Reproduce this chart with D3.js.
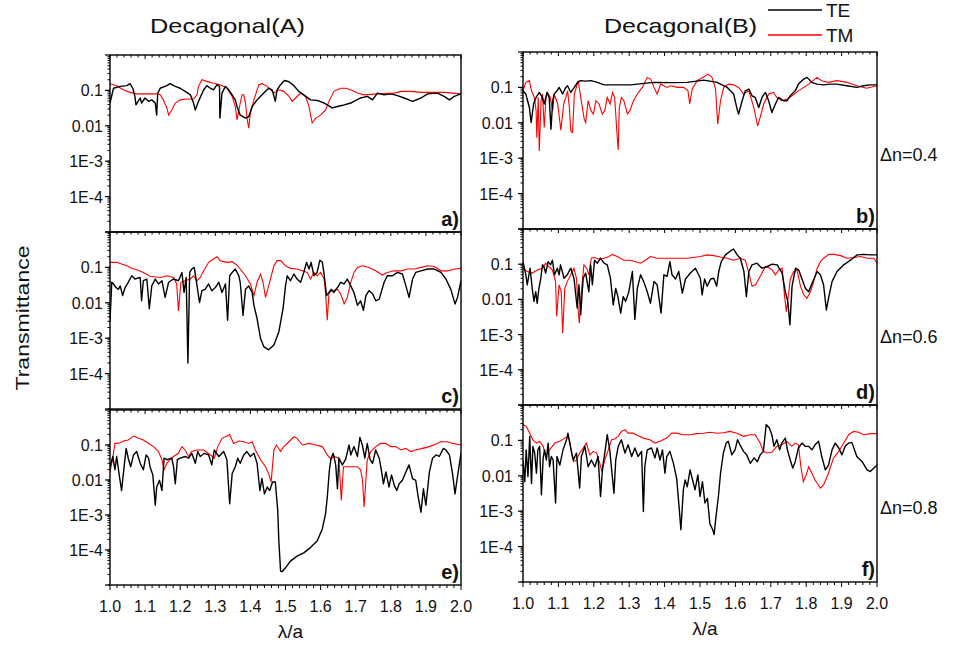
<!DOCTYPE html>
<html>
<head>
<meta charset="utf-8">
<script src="https://d3js.org/d3.v7.min.js"></script>
<style>
  body { margin: 0; background: #fff; }
  text { font-family: Arial, "Liberation Sans", sans-serif; fill: #111; }
</style>
</head>
<body>
<script>
// ---- data: [lambda/a, transmittance] ----
const teA = [[1.000,0.044],[1.010,0.115],[1.029,0.13],[1.048,0.136],[1.057,0.155],[1.065,0.115],[1.071,0.068],[1.074,0.039],[1.086,0.061],[1.090,0.044],[1.100,0.061],[1.110,0.049],[1.119,0.054],[1.129,0.044],[1.133,0.020],[1.136,0.084],[1.143,0.115],[1.162,0.136],[1.171,0.155],[1.186,0.13],[1.200,0.115],[1.214,0.094],[1.229,0.075],[1.238,0.044],[1.243,0.028],[1.252,0.049],[1.267,0.104],[1.276,0.136],[1.286,0.115],[1.295,0.104],[1.305,0.145],[1.312,0.13],[1.313,0.0165],[1.319,0.084],[1.329,0.13],[1.338,0.104],[1.348,0.075],[1.357,0.054],[1.362,0.035],[1.371,0.020],[1.386,0.0165],[1.395,0.018],[1.405,0.035],[1.419,0.054],[1.429,0.068],[1.443,0.094],[1.452,0.115],[1.462,0.104],[1.471,0.049],[1.476,0.104],[1.486,0.145],[1.497,0.19],[1.510,0.175],[1.524,0.136],[1.538,0.094],[1.552,0.075],[1.571,0.054],[1.590,0.052],[1.610,0.044],[1.619,0.039],[1.633,0.032],[1.648,0.035],[1.667,0.039],[1.686,0.044],[1.695,0.049],[1.714,0.061],[1.733,0.068],[1.748,0.054],[1.762,0.084],[1.781,0.075],[1.800,0.080],[1.819,0.071],[1.838,0.061],[1.862,0.049],[1.886,0.061],[1.905,0.080],[1.933,0.084],[1.952,0.068],[1.967,0.054],[1.981,0.068],[2.000,0.080]];
const tmA = [[1.000,0.155],[1.019,0.136],[1.038,0.104],[1.057,0.088],[1.076,0.080],[1.105,0.080],[1.133,0.080],[1.143,0.075],[1.152,0.054],[1.162,0.032],[1.167,0.020],[1.176,0.028],[1.186,0.044],[1.200,0.054],[1.219,0.057],[1.238,0.057],[1.248,0.075],[1.252,0.13],[1.262,0.2],[1.276,0.18],[1.295,0.16],[1.314,0.145],[1.333,0.115],[1.348,0.068],[1.357,0.035],[1.362,0.0147],[1.371,0.044],[1.376,0.075],[1.381,0.075],[1.386,0.044],[1.390,0.018],[1.395,0.0086],[1.400,0.023],[1.410,0.054],[1.424,0.145],[1.433,0.155],[1.448,0.13],[1.467,0.084],[1.481,0.104],[1.495,0.094],[1.510,0.068],[1.519,0.049],[1.529,0.061],[1.543,0.084],[1.557,0.068],[1.567,0.035],[1.576,0.012],[1.586,0.0165],[1.600,0.020],[1.614,0.028],[1.624,0.049],[1.638,0.094],[1.657,0.115],[1.671,0.115],[1.686,0.104],[1.705,0.084],[1.724,0.075],[1.762,0.080],[1.810,0.084],[1.829,0.094],[1.857,0.094],[1.886,0.088],[1.914,0.088],[1.952,0.088],[2.000,0.080]];

const teB = [[1.000,0.080],[1.008,0.065],[1.018,0.027],[1.023,0.0102],[1.030,0.034],[1.037,0.052],[1.046,0.072],[1.055,0.052],[1.060,0.034],[1.068,0.072],[1.074,0.052],[1.079,0.0066],[1.084,0.042],[1.088,0.065],[1.096,0.080],[1.102,0.1],[1.112,0.065],[1.121,0.1],[1.126,0.111],[1.135,0.072],[1.145,0.1],[1.154,0.139],[1.163,0.155],[1.177,0.15],[1.192,0.155],[1.210,0.139],[1.229,0.118],[1.248,0.118],[1.276,0.118],[1.304,0.118],[1.323,0.124],[1.342,0.13],[1.370,0.139],[1.417,0.136],[1.464,0.139],[1.511,0.16],[1.548,0.139],[1.577,0.1],[1.595,0.065],[1.605,0.024],[1.609,0.0176],[1.619,0.042],[1.628,0.080],[1.638,0.09],[1.647,0.058],[1.656,0.052],[1.666,0.027],[1.675,0.052],[1.685,0.072],[1.694,0.042],[1.703,0.0196],[1.713,0.034],[1.722,0.052],[1.736,0.042],[1.746,0.042],[1.755,0.058],[1.769,0.080],[1.778,0.124],[1.793,0.172],[1.802,0.192],[1.816,0.139],[1.830,0.124],[1.849,0.118],[1.868,0.124],[1.886,0.124],[1.915,0.111],[1.943,0.1],[1.962,0.111],[1.980,0.118],[2.000,0.118]];
const tmB = [[1.000,0.080],[1.008,0.139],[1.018,0.155],[1.024,0.080],[1.032,0.052],[1.037,0.022],[1.039,0.0038],[1.043,0.052],[1.046,0.0016],[1.051,0.042],[1.055,0.065],[1.060,0.0074],[1.065,0.052],[1.069,0.072],[1.077,0.052],[1.084,0.022],[1.088,0.065],[1.098,0.034],[1.107,0.0062],[1.115,0.034],[1.121,0.052],[1.126,0.080],[1.131,0.027],[1.135,0.0059],[1.140,0.0053],[1.145,0.065],[1.152,0.111],[1.156,0.155],[1.163,0.052],[1.173,0.0127],[1.177,0.0102],[1.184,0.042],[1.192,0.022],[1.199,0.0176],[1.206,0.042],[1.215,0.034],[1.224,0.0176],[1.231,0.022],[1.238,0.052],[1.246,0.034],[1.253,0.072],[1.259,0.052],[1.265,0.0059],[1.269,0.0017],[1.272,0.027],[1.278,0.052],[1.285,0.042],[1.295,0.0176],[1.302,0.022],[1.312,0.042],[1.323,0.065],[1.337,0.1],[1.351,0.192],[1.361,0.172],[1.370,0.1],[1.379,0.065],[1.389,0.124],[1.398,0.111],[1.408,0.1],[1.417,0.111],[1.436,0.1],[1.454,0.1],[1.466,0.080],[1.471,0.034],[1.478,0.09],[1.492,0.155],[1.511,0.2],[1.522,0.238],[1.534,0.192],[1.544,0.09],[1.550,0.0092],[1.558,0.042],[1.567,0.1],[1.581,0.124],[1.595,0.118],[1.609,0.1],[1.623,0.065],[1.638,0.080],[1.652,0.027],[1.663,0.0082],[1.670,0.0142],[1.680,0.034],[1.694,0.065],[1.708,0.072],[1.717,0.052],[1.731,0.042],[1.746,0.047],[1.760,0.058],[1.778,0.080],[1.793,0.1],[1.807,0.124],[1.821,0.16],[1.830,0.192],[1.844,0.155],[1.863,0.139],[1.886,0.155],[1.915,0.139],[1.943,0.111],[1.971,0.095],[2.000,0.111]];

const teC = [[1.000,0.0029],[1.005,0.038],[1.010,0.034],[1.017,0.027],[1.024,0.024],[1.029,0.030],[1.036,0.016],[1.043,0.027],[1.052,0.038],[1.062,0.058],[1.071,0.047],[1.086,0.052],[1.090,0.0114],[1.095,0.042],[1.105,0.047],[1.112,0.0068],[1.119,0.030],[1.129,0.047],[1.138,0.034],[1.148,0.042],[1.157,0.0142],[1.167,0.038],[1.181,0.047],[1.195,0.042],[1.205,0.072],[1.211,0.0196],[1.217,0.052],[1.222,0.0002],[1.227,0.072],[1.233,0.09],[1.240,0.1],[1.248,0.030],[1.255,0.0102],[1.262,0.022],[1.271,0.024],[1.281,0.034],[1.290,0.022],[1.300,0.027],[1.310,0.038],[1.319,0.0196],[1.329,0.034],[1.335,0.0032],[1.341,0.058],[1.348,0.072],[1.357,0.09],[1.367,0.058],[1.371,0.038],[1.379,0.0044],[1.386,0.024],[1.395,0.030],[1.405,0.0196],[1.410,0.0085],[1.419,0.0036],[1.429,0.00098],[1.438,0.00058],[1.452,0.00047],[1.467,0.00064],[1.481,0.0015],[1.493,0.0068],[1.500,0.030],[1.505,0.058],[1.514,0.042],[1.524,0.065],[1.533,0.047],[1.543,0.038],[1.552,0.072],[1.560,0.139],[1.567,0.09],[1.573,0.139],[1.581,0.058],[1.590,0.072],[1.598,0.16],[1.605,0.139],[1.610,0.065],[1.617,0.016],[1.624,0.0196],[1.630,0.024],[1.638,0.0196],[1.648,0.027],[1.657,0.038],[1.667,0.034],[1.676,0.047],[1.686,0.030],[1.695,0.0196],[1.705,0.0085],[1.714,0.0114],[1.722,0.0061],[1.729,0.016],[1.738,0.022],[1.748,0.018],[1.757,0.0114],[1.767,0.0127],[1.781,0.038],[1.790,0.058],[1.805,0.058],[1.819,0.072],[1.833,0.065],[1.843,0.030],[1.852,0.0142],[1.862,0.047],[1.871,0.072],[1.886,0.080],[1.905,0.09],[1.924,0.09],[1.943,0.072],[1.957,0.047],[1.971,0.024],[1.983,0.0093],[1.990,0.0142],[2.000,0.042]];
const tmC = [[1.000,0.139],[1.019,0.139],[1.033,0.124],[1.048,0.111],[1.062,0.094],[1.076,0.086],[1.095,0.072],[1.114,0.056],[1.143,0.052],[1.162,0.058],[1.181,0.052],[1.190,0.034],[1.195,0.0059],[1.202,0.038],[1.214,0.042],[1.229,0.047],[1.238,0.058],[1.248,0.042],[1.257,0.052],[1.267,0.080],[1.281,0.139],[1.295,0.172],[1.305,0.2],[1.314,0.155],[1.333,0.139],[1.348,0.145],[1.362,0.116],[1.371,0.09],[1.386,0.058],[1.400,0.034],[1.410,0.016],[1.419,0.038],[1.429,0.065],[1.436,0.038],[1.443,0.0142],[1.452,0.030],[1.467,0.111],[1.476,0.155],[1.486,0.155],[1.500,0.111],[1.514,0.094],[1.533,0.09],[1.548,0.080],[1.562,0.072],[1.571,0.047],[1.581,0.072],[1.590,0.058],[1.600,0.072],[1.610,0.047],[1.614,0.0196],[1.619,0.0032],[1.624,0.0196],[1.633,0.022],[1.648,0.024],[1.657,0.018],[1.667,0.0093],[1.676,0.0142],[1.686,0.038],[1.695,0.072],[1.705,0.1],[1.719,0.111],[1.738,0.1],[1.757,0.080],[1.776,0.061],[1.790,0.072],[1.810,0.080],[1.829,0.080],[1.848,0.09],[1.867,0.09],[1.886,0.1],[1.905,0.111],[1.924,0.106],[1.943,0.080],[1.962,0.080],[1.981,0.09],[2.000,0.094]];

const teD = [[1.000,0.118],[1.008,0.05],[1.012,0.026],[1.020,0.077],[1.026,0.0205],[1.031,0.0088],[1.036,0.0165],[1.040,0.0078],[1.045,0.0205],[1.050,0.038],[1.055,0.096],[1.059,0.086],[1.064,0.056],[1.071,0.118],[1.078,0.096],[1.083,0.13],[1.089,0.05],[1.097,0.077],[1.102,0.05],[1.106,0.096],[1.116,0.04],[1.125,0.05],[1.135,0.077],[1.144,0.04],[1.153,0.0057],[1.158,0.026],[1.163,0.0037],[1.170,0.04],[1.177,0.056],[1.186,0.0165],[1.191,0.096],[1.196,0.026],[1.202,0.13],[1.210,0.107],[1.219,0.148],[1.229,0.107],[1.238,0.096],[1.247,0.04],[1.255,0.007],[1.262,0.0205],[1.268,0.012],[1.276,0.0041],[1.283,0.012],[1.290,0.0088],[1.299,0.0165],[1.309,0.062],[1.316,0.0027],[1.323,0.0205],[1.332,0.05],[1.341,0.032],[1.351,0.0165],[1.360,0.0078],[1.370,0.032],[1.379,0.026],[1.390,0.0041],[1.398,0.05],[1.407,0.045],[1.415,0.118],[1.421,0.05],[1.431,0.038],[1.440,0.062],[1.450,0.015],[1.459,0.038],[1.473,0.056],[1.487,0.077],[1.501,0.04],[1.506,0.0135],[1.513,0.038],[1.520,0.0235],[1.530,0.038],[1.539,0.04],[1.547,0.0235],[1.553,0.062],[1.560,0.118],[1.572,0.184],[1.586,0.238],[1.595,0.27],[1.605,0.184],[1.614,0.148],[1.624,0.062],[1.631,0.012],[1.638,0.062],[1.647,0.096],[1.661,0.107],[1.675,0.077],[1.690,0.086],[1.704,0.1],[1.718,0.096],[1.732,0.056],[1.741,0.0165],[1.748,0.0088],[1.754,0.0019],[1.760,0.0235],[1.770,0.077],[1.779,0.068],[1.788,0.038],[1.798,0.0205],[1.807,0.0165],[1.817,0.029],[1.831,0.062],[1.840,0.05],[1.849,0.026],[1.857,0.005],[1.864,0.012],[1.873,0.032],[1.887,0.062],[1.906,0.096],[1.925,0.13],[1.944,0.184],[1.962,0.19],[1.981,0.184],[2.000,0.184]];
const tmD = [[1.000,0.077],[1.012,0.062],[1.026,0.056],[1.040,0.068],[1.055,0.077],[1.064,0.107],[1.073,0.086],[1.083,0.068],[1.092,0.032],[1.095,0.0033],[1.102,0.026],[1.108,0.0165],[1.112,0.0011],[1.118,0.0205],[1.125,0.032],[1.135,0.05],[1.144,0.077],[1.151,0.04],[1.155,0.007],[1.159,0.0021],[1.165,0.0165],[1.172,0.096],[1.180,0.077],[1.186,0.05],[1.193,0.148],[1.200,0.155],[1.214,0.14],[1.229,0.148],[1.243,0.165],[1.252,0.19],[1.266,0.165],[1.285,0.13],[1.304,0.13],[1.318,0.118],[1.332,0.107],[1.346,0.13],[1.360,0.165],[1.379,0.148],[1.417,0.148],[1.464,0.148],[1.501,0.165],[1.520,0.184],[1.539,0.175],[1.558,0.16],[1.577,0.148],[1.595,0.13],[1.614,0.148],[1.628,0.13],[1.638,0.056],[1.647,0.0235],[1.657,0.026],[1.666,0.038],[1.675,0.056],[1.685,0.086],[1.694,0.08],[1.704,0.068],[1.713,0.05],[1.722,0.068],[1.732,0.077],[1.739,0.012],[1.744,0.0045],[1.751,0.0165],[1.755,0.038],[1.765,0.062],[1.774,0.068],[1.784,0.0235],[1.793,0.0135],[1.802,0.0108],[1.812,0.0165],[1.821,0.032],[1.831,0.077],[1.840,0.118],[1.849,0.148],[1.864,0.19],[1.878,0.19],[1.897,0.175],[1.915,0.148],[1.934,0.155],[1.953,0.165],[1.972,0.148],[1.991,0.148],[2.000,0.107]];

const teE = [[1.000,0.024],[1.008,0.047],[1.014,0.0196],[1.019,0.047],[1.027,0.0125],[1.033,0.005],[1.038,0.015],[1.046,0.08],[1.052,0.042],[1.059,0.024],[1.067,0.052],[1.076,0.065],[1.086,0.03],[1.095,0.0196],[1.103,0.052],[1.110,0.042],[1.114,0.024],[1.122,0.014],[1.129,0.0019],[1.133,0.0063],[1.141,0.0098],[1.148,0.005],[1.154,0.042],[1.162,0.038],[1.176,0.042],[1.181,0.024],[1.186,0.0078],[1.192,0.038],[1.200,0.042],[1.214,0.047],[1.224,0.042],[1.233,0.058],[1.243,0.03],[1.250,0.065],[1.257,0.047],[1.269,0.058],[1.281,0.052],[1.290,0.027],[1.297,0.072],[1.310,0.047],[1.324,0.065],[1.333,0.038],[1.341,0.0021],[1.348,0.015],[1.357,0.024],[1.364,0.042],[1.371,0.03],[1.381,0.052],[1.390,0.065],[1.400,0.047],[1.410,0.058],[1.419,0.03],[1.427,0.005],[1.433,0.011],[1.440,0.004],[1.448,0.0063],[1.455,0.005],[1.463,0.0088],[1.471,0.0088],[1.478,0.0013],[1.481,0.00018],[1.486,0.000025],[1.490,0.000024],[1.500,0.000031],[1.514,0.000048],[1.533,0.000067],[1.552,0.000083],[1.571,0.000117],[1.590,0.00018],[1.605,0.0004],[1.614,0.00107],[1.619,0.0032],[1.625,0.019],[1.630,0.042],[1.636,0.058],[1.643,0.027],[1.648,0.0056],[1.652,0.042],[1.662,0.027],[1.671,0.038],[1.681,0.1],[1.686,0.052],[1.695,0.09],[1.705,0.047],[1.712,0.165],[1.719,0.1],[1.726,0.042],[1.733,0.111],[1.741,0.038],[1.748,0.03],[1.757,0.072],[1.767,0.042],[1.773,0.0196],[1.779,0.0078],[1.786,0.017],[1.795,0.0063],[1.802,0.014],[1.810,0.007],[1.817,0.005],[1.824,0.0078],[1.833,0.0098],[1.843,0.017],[1.852,0.027],[1.862,0.011],[1.871,0.0098],[1.878,0.0033],[1.886,0.0012],[1.893,0.0056],[1.900,0.0019],[1.910,0.017],[1.919,0.042],[1.929,0.052],[1.938,0.047],[1.950,0.08],[1.957,0.072],[1.967,0.052],[1.976,0.015],[1.983,0.004],[1.990,0.0125],[2.000,0.058]];
const tmE = [[1.000,0.017],[1.008,0.042],[1.014,0.111],[1.024,0.111],[1.038,0.13],[1.052,0.139],[1.062,0.165],[1.069,0.18],[1.081,0.155],[1.095,0.139],[1.110,0.111],[1.124,0.09],[1.138,0.065],[1.148,0.038],[1.154,0.0196],[1.162,0.03],[1.171,0.038],[1.181,0.047],[1.195,0.058],[1.205,0.09],[1.214,0.072],[1.224,0.047],[1.233,0.065],[1.248,0.072],[1.267,0.072],[1.286,0.052],[1.297,0.042],[1.307,0.09],[1.319,0.155],[1.333,0.18],[1.341,0.2],[1.352,0.111],[1.367,0.13],[1.381,0.124],[1.395,0.111],[1.405,0.124],[1.414,0.072],[1.429,0.038],[1.443,0.024],[1.452,0.015],[1.459,0.0088],[1.467,0.072],[1.474,0.1],[1.486,0.065],[1.495,0.09],[1.510,0.124],[1.524,0.172],[1.533,0.155],[1.548,0.1],[1.567,0.111],[1.586,0.1],[1.605,0.09],[1.619,0.052],[1.629,0.04],[1.638,0.047],[1.652,0.042],[1.659,0.0026],[1.665,0.024],[1.676,0.024],[1.690,0.024],[1.705,0.024],[1.714,0.0196],[1.719,0.011],[1.724,0.0017],[1.729,0.0098],[1.733,0.038],[1.743,0.065],[1.757,0.09],[1.771,0.111],[1.786,0.111],[1.800,0.09],[1.814,0.09],[1.829,0.072],[1.843,0.08],[1.857,0.065],[1.871,0.072],[1.890,0.08],[1.910,0.09],[1.929,0.106],[1.943,0.124],[1.962,0.124],[1.976,0.111],[2.000,0.1]];

const teF = [[1.000,0.028],[1.005,0.0068],[1.009,0.054],[1.014,0.0095],[1.019,0.13],[1.024,0.006],[1.028,0.068],[1.033,0.044],[1.038,0.0118],[1.042,0.054],[1.047,0.068],[1.052,0.0029],[1.057,0.032],[1.061,0.054],[1.066,0.028],[1.071,0.084],[1.075,0.018],[1.080,0.035],[1.085,0.028],[1.092,0.0017],[1.096,0.035],[1.104,0.02],[1.113,0.054],[1.123,0.104],[1.127,0.16],[1.132,0.084],[1.142,0.028],[1.151,0.044],[1.160,0.0045],[1.165,0.035],[1.175,0.068],[1.184,0.018],[1.193,0.028],[1.203,0.018],[1.212,0.035],[1.219,0.0026],[1.225,0.018],[1.231,0.044],[1.238,0.145],[1.245,0.054],[1.257,0.0032],[1.262,0.028],[1.269,0.068],[1.278,0.104],[1.288,0.044],[1.297,0.075],[1.307,0.035],[1.316,0.061],[1.325,0.035],[1.335,0.049],[1.340,0.00098],[1.344,0.018],[1.351,0.054],[1.363,0.061],[1.373,0.032],[1.379,0.061],[1.387,0.028],[1.394,0.054],[1.401,0.0118],[1.406,0.035],[1.415,0.049],[1.425,0.0225],[1.434,0.0085],[1.441,0.0013],[1.446,0.0003],[1.453,0.004],[1.458,0.0076],[1.464,0.0049],[1.472,0.0147],[1.479,0.0076],[1.486,0.004],[1.494,0.0106],[1.500,0.0026],[1.507,0.0068],[1.514,0.0017],[1.521,0.0023],[1.528,0.00044],[1.536,0.0003],[1.540,0.00022],[1.545,0.00068],[1.552,0.0026],[1.558,0.0118],[1.566,0.044],[1.574,0.084],[1.580,0.094],[1.590,0.039],[1.599,0.054],[1.606,0.104],[1.613,0.075],[1.623,0.049],[1.632,0.039],[1.642,0.0225],[1.653,0.032],[1.662,0.025],[1.670,0.039],[1.679,0.049],[1.687,0.28],[1.696,0.225],[1.703,0.145],[1.709,0.068],[1.717,0.104],[1.725,0.054],[1.731,0.084],[1.741,0.116],[1.747,0.054],[1.755,0.028],[1.762,0.0165],[1.769,0.025],[1.778,0.061],[1.788,0.084],[1.797,0.068],[1.807,0.068],[1.816,0.054],[1.825,0.075],[1.835,0.094],[1.844,0.035],[1.854,0.0147],[1.863,0.02],[1.873,0.054],[1.882,0.084],[1.892,0.061],[1.901,0.039],[1.910,0.068],[1.920,0.084],[1.929,0.088],[1.943,0.035],[1.958,0.025],[1.972,0.0147],[1.981,0.0132],[1.995,0.018],[2.000,0.02]];
const tmF = [[1.000,0.28],[1.009,0.25],[1.019,0.16],[1.028,0.104],[1.038,0.084],[1.047,0.094],[1.057,0.068],[1.064,0.035],[1.075,0.054],[1.090,0.084],[1.104,0.094],[1.118,0.116],[1.127,0.13],[1.132,0.094],[1.137,0.044],[1.143,0.025],[1.151,0.028],[1.160,0.044],[1.170,0.061],[1.179,0.084],[1.189,0.039],[1.198,0.049],[1.208,0.044],[1.217,0.0225],[1.223,0.013],[1.231,0.028],[1.241,0.054],[1.250,0.104],[1.259,0.11],[1.269,0.13],[1.278,0.18],[1.288,0.2],[1.297,0.16],[1.311,0.16],[1.325,0.135],[1.340,0.116],[1.358,0.104],[1.373,0.084],[1.387,0.094],[1.406,0.116],[1.420,0.16],[1.434,0.16],[1.453,0.145],[1.472,0.145],[1.491,0.155],[1.509,0.16],[1.528,0.17],[1.547,0.16],[1.566,0.165],[1.585,0.18],[1.604,0.16],[1.623,0.13],[1.642,0.145],[1.656,0.145],[1.670,0.084],[1.679,0.049],[1.689,0.044],[1.703,0.046],[1.717,0.068],[1.731,0.075],[1.745,0.094],[1.759,0.068],[1.769,0.084],[1.778,0.075],[1.785,0.018],[1.792,0.0068],[1.800,0.0106],[1.807,0.018],[1.816,0.0118],[1.825,0.0076],[1.840,0.0045],[1.849,0.0055],[1.863,0.0118],[1.877,0.032],[1.892,0.049],[1.906,0.084],[1.920,0.145],[1.934,0.18],[1.948,0.17],[1.962,0.145],[1.981,0.155],[2.000,0.155]];

const xTicks = [1.0, 1.1, 1.2, 1.3, 1.4, 1.5, 1.6, 1.7, 1.8, 1.9, 2.0];
const yTicks = [0.1, 0.01, 1e-3, 1e-4];
const yTickLabels = ["0.1", "0.01", "1E-3", "1E-4"];
const columnTitles = ["Decagonal(A)", "Decagonal(B)"];
const rowLabels = ["\u0394n=0.4", "\u0394n=0.6", "\u0394n=0.8"];
const seriesNames = ["TE", "TM"];
const seriesColors = ["#000000", "#ff0000"];

// ---- layout ----
const W = 963, H = 646;
const svg = d3.select("body").append("svg").attr("width", W).attr("height", H);

const panels = [
  { tag: "a)", te: teA, tm: tmA, x0: 110, x1: 461, y0: 55,  y1: 232, bottom: false },
  { tag: "c)", te: teC, tm: tmC, x0: 110, x1: 461, y0: 232, y1: 409, bottom: false },
  { tag: "e)", te: teE, tm: tmE, x0: 110, x1: 461, y0: 410, y1: 585, bottom: true },
  { tag: "b)", te: teB, tm: tmB, x0: 523, x1: 877, y0: 52,  y1: 229, bottom: false },
  { tag: "d)", te: teD, tm: tmD, x0: 523, x1: 877, y0: 229, y1: 405, bottom: false },
  { tag: "f)", te: teF, tm: tmF, x0: 523, x1: 877, y0: 405, y1: 582, bottom: true }
];

const minorY = [];
for (let e = -5; e < 0; e++) for (let m = 1; m < 10; m++) minorY.push(m * Math.pow(10, e));
const minorX = d3.range(0, 51).map(i => 1 + i * 0.02);

panels.forEach((p, pi) => {
  const x = d3.scaleLinear().domain([1, 2]).range([p.x0, p.x1]);
  const y = d3.scaleLog().domain([1e-5, 1]).range([p.y1, p.y0]);
  const g = svg.append("g");

  const clipId = "clip" + pi;
  svg.append("clipPath").attr("id", clipId).append("rect")
    .attr("x", p.x0).attr("y", p.y0).attr("width", p.x1 - p.x0).attr("height", p.y1 - p.y0);

  const line = d3.line().x(d => x(d[0])).y(d => y(d[1]));
  const plot = g.append("g").attr("clip-path", `url(#${clipId})`);
  plot.append("path").datum(p.tm).attr("d", line)
    .attr("fill", "none").attr("stroke", seriesColors[1]).attr("stroke-width", 1.1);
  plot.append("path").datum(p.te).attr("d", line)
    .attr("fill", "none").attr("stroke", seriesColors[0]).attr("stroke-width", 1.4)
    .attr("stroke-linejoin", "round");

  // left log axis, ticks outward
  g.selectAll(".ymin").data(minorY).enter().append("line")
    .attr("x1", p.x0 - 2.5).attr("x2", p.x0)
    .attr("y1", d => y(d)).attr("y2", d => y(d))
    .attr("stroke", "#000").attr("stroke-width", 1);
  g.selectAll(".ymaj").data([1e-5, 1e-4, 1e-3, 1e-2, 0.1, 1]).enter().append("line")
    .attr("x1", p.x0 - 5).attr("x2", p.x0)
    .attr("y1", d => y(d)).attr("y2", d => y(d))
    .attr("stroke", "#000").attr("stroke-width", 1.2);
  g.selectAll(".ylab").data(yTicks).enter().append("text")
    .attr("x", p.x0 < 300 ? p.x0 - 7 : p.x0 - 10)
    .attr("y", d => y(d) + 6)
    .attr("text-anchor", "end").attr("font-size", 16)
    .text((d, i) => yTickLabels[i]);

  // top ticks pointing inward
  g.selectAll(".xtop").data(minorX).enter().append("line")
    .attr("x1", d => x(d)).attr("x2", d => x(d))
    .attr("y1", p.y0).attr("y2", (d, i) => p.y0 + (i % 5 === 0 ? 4 : 2.5))
    .attr("stroke", "#000").attr("stroke-width", 1);

  if (p.bottom) {
    g.selectAll(".xbot").data(minorX).enter().append("line")
      .attr("x1", d => x(d)).attr("x2", d => x(d))
      .attr("y1", p.y1).attr("y2", (d, i) => p.y1 + (i % 5 === 0 ? 5 : 3))
      .attr("stroke", "#000").attr("stroke-width", 1);
    g.selectAll(".xlab").data(xTicks).enter().append("text")
      .attr("x", d => x(d)).attr("y", p.y1 + 27)
      .attr("text-anchor", "middle").attr("font-size", 16)
      .text(d => d.toFixed(1));
    g.append("text").attr("x", (p.x0 + p.x1) / 2 + 5).attr("y", p.y1 + 53)
      .attr("text-anchor", "middle").attr("font-size", 19).text("\u03bb/a");
  }

  // frame
  g.append("rect").attr("x", p.x0).attr("y", p.y0)
    .attr("width", p.x1 - p.x0).attr("height", p.y1 - p.y0)
    .attr("fill", "none").attr("stroke", "#000").attr("stroke-width", 1.4);

  g.append("text").attr("x", p.x1 - 2).attr("y", p.y1 - 6)
    .attr("text-anchor", "end").attr("font-size", 20).attr("font-weight", "bold")
    .text(p.tag);
});

// column titles
svg.append("text").attr("x", 150).attr("y", 33)
  .attr("font-size", 21).attr("textLength", 155).attr("lengthAdjust", "spacingAndGlyphs")
  .text(columnTitles[0]);
svg.append("text").attr("x", 604).attr("y", 33)
  .attr("font-size", 21).attr("textLength", 153).attr("lengthAdjust", "spacingAndGlyphs")
  .text(columnTitles[1]);

// row labels on the right
[155, 337, 508].forEach((yy, i) => {
  svg.append("text").attr("x", 880).attr("y", yy + 6).attr("font-size", 18).text(rowLabels[i]);
});

// y axis title
svg.append("text").attr("transform", "translate(29,318) rotate(-90)")
  .attr("text-anchor", "middle").attr("font-size", 19)
  .attr("textLength", 145).attr("lengthAdjust", "spacingAndGlyphs")
  .text("Transmittance");

// legend
const legend = svg.append("g");
seriesNames.forEach((s, i) => {
  const ly = 10 + i * 25;
  legend.append("line").attr("x1", 768).attr("x2", 822).attr("y1", ly).attr("y2", ly)
    .attr("stroke", seriesColors[i]).attr("stroke-width", 1.3);
  legend.append("text").attr("x", 826).attr("y", ly + 7).attr("font-size", 19).text(s);
});
</script>
</body>
</html>
